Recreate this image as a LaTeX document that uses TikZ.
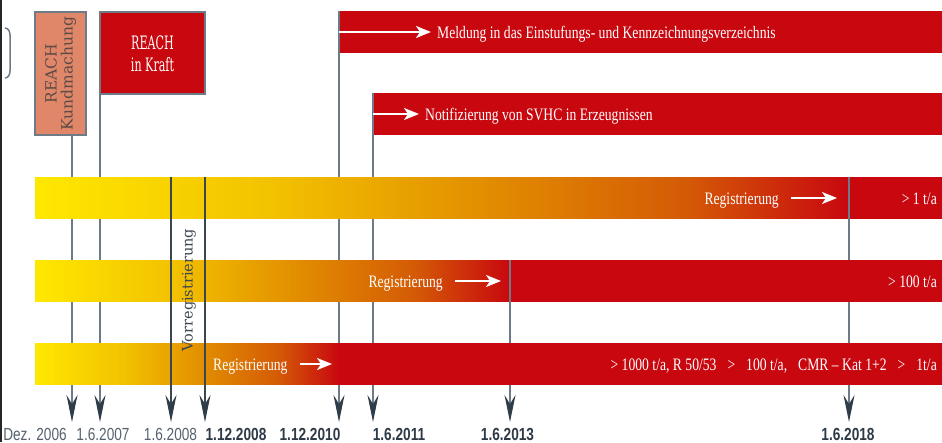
\documentclass[tikz,border=0pt]{standalone}
\usepackage{fontspec}
\setmainfont{Liberation Serif}
\newfontfamily\barfont[FakeStretch=0.78]{Liberation Serif}
\newfontfamily\datefont[FakeStretch=0.78]{Liberation Sans}
\newfontfamily\slabfont{DejaVu Serif}
\newfontfamily\slabcond[FakeStretch=0.6]{DejaVu Serif}
\usetikzlibrary{arrows.meta}
\definecolor{reachred}{HTML}{C8070F}
\definecolor{gyA}{HTML}{FFE800}
\definecolor{gyB}{HTML}{F2C000}
\definecolor{gyC}{HTML}{E28E00}
\definecolor{gyD}{HTML}{D45A06}
\definecolor{salmon}{HTML}{E0876A}
\definecolor{linegray}{HTML}{6E7A86}
\definecolor{darkline}{HTML}{3C4650}
\definecolor{arrowdark}{HTML}{2F3D4A}
\definecolor{dategray}{HTML}{56626E}
\definecolor{datedark}{HTML}{2E3A46}
\definecolor{kundtext}{HTML}{5C4A45}
\newcommand\gradbar[3]{%
  \pgfmathsetmacro\gA{35+0.3*(#3-35)}%
  \pgfmathsetmacro\gB{35+0.55*(#3-35)}%
  \pgfmathsetmacro\gC{35+0.8*(#3-35)}%
  \shade[left color=gyA,right color=gyB] (35,#1) rectangle (\gA+0.6,#2);
  \shade[left color=gyB,right color=gyC] (\gA,#1) rectangle (\gB+0.6,#2);
  \shade[left color=gyC,right color=gyD] (\gB,#1) rectangle (\gC+0.6,#2);
  \shade[left color=gyD,right color=reachred] (\gC,#1) rectangle (#3+0.6,#2);
  \fill[reachred] (#3,#1) rectangle (942,#2);
}
\newcommand\mygap{\hspace*{11pt}}
\tikzset{
  vline/.style={draw=linegray,line width=1.5pt},
  vdark/.style={draw=darkline,line width=1.3pt},
  downarrow/.style={-{Stealth[length=27pt,width=11pt,inset=9pt,color=arrowdark]}},
  warrow/.style={draw=white,line width=2pt,-{Stealth[length=15pt,width=12pt,inset=4pt]}},
  bartext/.style={text=white,font=\barfont\fontsize{17.5}{20}\selectfont,inner sep=0pt},
  datelabel/.style={text=dategray,font=\datefont\fontsize{17.5}{18}\selectfont,inner sep=0pt,anchor=base},
  datebold/.style={text=datedark,font=\datefont\bfseries\fontsize{17.5}{18}\selectfont,inner sep=0pt,anchor=base},
  barnode/.style={inner sep=0pt,outer sep=0pt,anchor=north west},
  framebox/.style={draw=linegray,line width=1.5pt,inner sep=0pt,outer sep=0pt}
}
\begin{document}
\begin{tikzpicture}[x=1pt,y=-1pt]
\useasboundingbox (0,0) rectangle (942,442);
\fill[white] (0,0) rectangle (942,442);
\fill[black!85] (0,0) rectangle (1.5,442);
\draw[linegray,line width=1.5pt] (5,28) to[out=0,in=90] (10,35) -- (10,71) to[out=-90,in=0] (5,78);
% arrow tips
\coordinate (tipa) at (72,422);
\coordinate (tipb) at (100,422);
\coordinate (tipc) at (171,422);
\coordinate (tipd) at (205,422);
\coordinate (tipe) at (339,422);
\coordinate (tipf) at (373,422);
\coordinate (tipg) at (510,422);
\coordinate (tiph) at (849,422);
% boxes
\node[framebox,fill=salmon,minimum width=51pt,minimum height=123pt] (kund) at (60.5,73.5) {};
\node[rotate=90,align=center,text=kundtext,font=\slabfont\fontsize{15.5}{16}\selectfont,inner sep=0pt] (kundtxt) at (kund.center) {REACH\\Kundmachung};
\node[framebox,fill=reachred,minimum width=105pt,minimum height=82pt] (kraft) at (152.5,53) {};
\node[align=center,text=white,font=\slabcond\fontsize{18.5}{21.5}\selectfont,inner sep=0pt] (krafttxt) at ([yshift=-1pt]kraft.center) {REACH\\in Kraft};
% bars (invisible frames)
\node[barnode,minimum width=603pt,minimum height=42pt] (bar1) at (339,11) {};
\node[barnode,minimum width=569pt,minimum height=42pt] (bar2) at (373,93) {};
\node[barnode,minimum width=907pt,minimum height=41.5pt] (barA) at (35,177) {};
\node[barnode,minimum width=907pt,minimum height=41.5pt] (barB) at (35,260) {};
\node[barnode,minimum width=907pt,minimum height=41.5pt] (barC) at (35,343) {};
% long lines behind bars
\draw[vline,downarrow] (kund.south -| tipa) -- (tipa);
\draw[vline,downarrow] (kraft.south west) -- (tipb);
\draw[vdark,downarrow] (barA.north -| tipc) -- (tipc);
\draw[vdark,downarrow] (barA.north -| tipd) -- (tipd);
\draw[vline,downarrow] (bar1.north west) -- (tipe);
\draw[vline,downarrow] (bar2.north west) -- (tipf);
\draw[vline,downarrow] (barB.north -| tipg) -- (tipg);
\draw[vline,downarrow] (barA.north -| tiph) -- (tiph);
% bar fills
\fill[reachred] (bar1.north west) rectangle (bar1.south east);
\fill[reachred] (bar2.north west) rectangle (bar2.south east);
\gradbar{177}{218.5}{849}
\gradbar{260}{301.5}{510}
\gradbar{343}{384.5}{339}
% lines over bars
\draw[vline] (bar1.north west) -- (bar1.south west);
\draw[vline] (bar2.north west) -- (bar2.south west);
\draw[vdark] (barA.north -| tipc) -- (barC.south -| tipc);
\draw[vdark] (barA.north -| tipd) -- (barC.south -| tipd);
\draw[vline] (barB.north -| tipg) -- (barB.south -| tipg);
\draw[vline] (barA.north -| tiph) -- (barA.south -| tiph);
% Vorregistrierung
\node[rotate=90,text=darkline,font=\slabfont\fontsize{14.5}{15}\selectfont,inner sep=0pt] (vorreg) at (189,290) {Vorregistrierung};
% bar texts
\node[bartext,anchor=base west] (meld) at (437,38) {Meldung in das Einstufungs- und Kennzeichnungsverzeichnis};
\draw[warrow] (bar1.west) -- ([xshift=-6pt]bar1.west -| meld.west);
\node[bartext,anchor=base west] (notif) at (425,120) {Notifizierung von SVHC in Erzeugnissen};
\draw[warrow] (bar2.west) -- ([xshift=-6pt]bar2.west -| notif.west);
\node[bartext,anchor=base east] (regA) at (779,204) {Registrierung};
\coordinate (regAend) at (837,198);
\draw[warrow] ([xshift=12pt]regA.east |- regAend) -- (regAend);
\node[bartext,anchor=base east] (tA) at (937,204) {> 1 t/a};
\node[bartext,anchor=base east] (regB) at (443,287) {Registrierung};
\coordinate (regBend) at (501,281);
\draw[warrow] ([xshift=12pt]regB.east |- regBend) -- (regBend);
\node[bartext,anchor=base east] (tB) at (937,287) {> 100 t/a};
\node[bartext,anchor=base west] (regC) at (213,370) {Registrierung};
\coordinate (regCend) at (332,364);
\draw[warrow] ([xshift=12pt]regC.east |- regCend) -- (regCend);
\node[bartext,anchor=base east] (tC) at (937,370) {> 1000 t/a, R 50/53\mygap>\mygap100 t/a,\mygap CMR – Kat 1+2\mygap>\mygap1t/a};
% dates
\node[datelabel] (d1) at (35,440) {Dez. 2006};
\node[datelabel] (d2) at (103,440) {1.6.2007};
\node[datelabel] (d3) at (170.5,440) {1.6.2008};
\node[datebold] (d4) at (236,440) {1.12.2008};
\node[datebold] (d5) at (310,440) {1.12.2010};
\node[datebold] (d6) at (399,440) {1.6.2011};
\node[datebold] (d7) at (507.5,440) {1.6.2013};
\node[datebold] (d8) at (848,440) {1.6.2018};
\end{tikzpicture}
\end{document}
